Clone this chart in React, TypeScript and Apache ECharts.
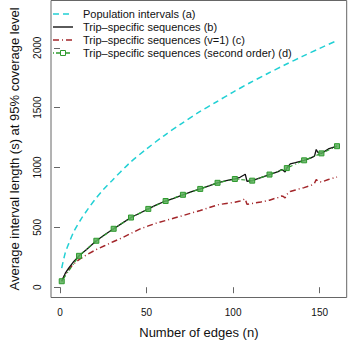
import React, { useEffect, useRef } from "react";
import * as echarts from "echarts";

// Population intervals (a)
const popN = [1, 3, 5, 8, 12, 16, 20, 25, 30, 40, 50, 60, 70, 80, 90, 100, 110, 120, 130, 140, 150, 160];
const popV = [160, 285, 362, 465, 565, 650, 728, 815, 890, 1035, 1155, 1265, 1365, 1460, 1545, 1630, 1710, 1785, 1858, 1928, 1995, 2060];

// Trip-specific sequences (b)
const tripN = [1, 3, 5, 8, 11, 15, 21, 26, 31, 36, 41, 46, 51, 56, 61, 66, 71, 76, 81, 86, 91, 96, 101, 104, 106, 107, 108, 111, 116, 121, 126, 128, 129, 130, 131, 133, 136, 141, 145, 147, 148, 149, 151, 155, 160];
const tripV = [50, 115, 160, 215, 262, 310, 388, 440, 488, 535, 582, 618, 654, 690, 720, 745, 772, 798, 821, 846, 872, 890, 904, 918, 935, 944, 885, 890, 915, 941, 965, 982, 975, 962, 995, 1030, 1040, 1060, 1080, 1095, 1150, 1125, 1118, 1155, 1178];

// Trip-specific sequences (v=1) (c)
const v1N = [1, 3, 6, 9, 12, 16, 21, 26, 31, 36, 41, 46, 51, 56, 61, 66, 71, 76, 81, 86, 91, 96, 101, 104, 106, 107, 108, 111, 116, 121, 126, 128, 129, 130, 131, 133, 136, 141, 145, 147, 148, 149, 151, 155, 160];
const v1V = [50, 110, 165, 210, 240, 276, 315, 348, 382, 413, 450, 485, 512, 537, 557, 578, 598, 620, 641, 664, 688, 700, 710, 720, 732, 738, 692, 700, 712, 727, 750, 762, 758, 745, 775, 800, 812, 832, 850, 868, 900, 885, 878, 900, 920];

// Trip-specific sequences (second order) (d)
const secN = [1, 11, 21, 31, 41, 51, 61, 71, 81, 91, 101, 111, 121, 131, 141, 151, 160];
const secV = [50, 262, 388, 488, 582, 654, 720, 772, 821, 872, 904, 890, 941, 995, 1060, 1118, 1178];

const xTicks = [0, 50, 100, 150];
const yTicks = [0, 500, 1000, 1500, 2000];

const legendLabels = [
  "Population intervals (a)",
  "Trip\u2013specific sequences (b)",
  "Trip\u2013specific sequences (v=1) (c)",
  "Trip\u2013specific sequences (second order) (d)",
];

const FONT = "'Liberation Sans', Arial, Helvetica, sans-serif";
const CYAN = "#22d0d4";
const RED = "#a3262a";
const GREEN = "#2f9a2f";

const zip = (a: number[], b: number[]) => a.map((x, i) => [x, b[i]]);

export default function App() {
  const ref = useRef<HTMLDivElement>(null);
  useEffect(() => {
    if (!ref.current) return;
    const chart = echarts.init(ref.current, null, { renderer: "svg" });
    const legendY = [14, 27, 40, 53];
    const legendStyles = [
      { stroke: CYAN, lineDash: [6, 4], lineWidth: 1.5 },
      { stroke: "#000", lineDash: null, lineWidth: 1.3 },
      { stroke: RED, lineDash: [6, 3, 1, 3], lineWidth: 1.5 },
      { stroke: GREEN, lineDash: [1, 2, 4, 3], lineWidth: 1.3 },
    ];
    const graphic: any[] = [];
    legendY.forEach((y, i) => {
      graphic.push({
        type: "line",
        shape: { x1: 53, y1: y, x2: 73, y2: y },
        style: { ...legendStyles[i], fill: null },
        silent: true,
      });
      graphic.push({
        type: "text",
        x: 83,
        y: y,
        style: {
          text: legendLabels[i],
          font: `11px ${FONT}`,
          fill: "#111",
          verticalAlign: "middle",
          align: "left",
        },
        silent: true,
      });
    });
    graphic.push({
      type: "rect",
      shape: { x: 60.5, y: 53 - 2.5, width: 5, height: 5 },
      style: { fill: "#fff", stroke: GREEN, lineWidth: 1 },
      silent: true,
    });

    const fmt = (v: number) => String(v);

    chart.setOption({
      animation: false,
      backgroundColor: "#fff",
      textStyle: { fontFamily: FONT },
      grid: {
        left: 50.7,
        top: 0.5,
        width: 296,
        height: 297,
        show: true,
        borderColor: "#666",
        borderWidth: 1,
        backgroundColor: "transparent",
        containLabel: false,
      },
      xAxis: {
        type: "value",
        min: -5.2,
        max: 165.6,
        splitLine: { show: false },
        axisLine: { show: false },
        axisTick: { show: true, inside: false, length: 6, lineStyle: { color: "#666" }, customValues: xTicks },
        axisLabel: { color: "#111", fontSize: 10, margin: 10, customValues: xTicks, fontFamily: FONT, formatter: fmt },
        name: "Number of edges (n)",
        nameLocation: "middle",
        nameGap: 28,
        nameTextStyle: { fontSize: 13, color: "#111", fontFamily: FONT },
      },
      yAxis: {
        type: "value",
        min: -86,
        max: 2395,
        splitLine: { show: false },
        axisLine: { show: false },
        axisTick: { show: true, inside: false, length: 6, lineStyle: { color: "#666" }, customValues: yTicks },
        axisLabel: { color: "#111", fontSize: 10, margin: 9, rotate: 90, customValues: yTicks, fontFamily: FONT, formatter: fmt },
        name: "Average interval length (s) at 95% coverage level",
        nameLocation: "middle",
        nameGap: 30,
        nameRotate: 90,
        nameTextStyle: { fontSize: 13, color: "#111", fontFamily: FONT },
      },
      graphic,
      series: [
        {
          type: "line",
          data: zip(popN, popV),
          smooth: 0.3,
          showSymbol: false,
          lineStyle: { color: CYAN, width: 1.5, type: [6, 4] },
          z: 2,
        },
        {
          type: "line",
          data: zip(v1N, v1V),
          showSymbol: false,
          lineStyle: { color: RED, width: 1.5, type: [6, 3, 1, 3] },
          z: 2,
        },
        {
          type: "line",
          data: zip(tripN, tripV),
          showSymbol: false,
          lineStyle: { color: "#111", width: 1.3 },
          z: 3,
        },
        {
          type: "line",
          data: zip(secN, secV),
          symbol: "rect",
          symbolSize: 5,
          showSymbol: true,
          itemStyle: { color: "rgba(90,175,90,0.85)", borderColor: GREEN, borderWidth: 1 },
          lineStyle: { color: GREEN, width: 1.2, type: [1, 2, 4, 3] },
          z: 4,
        },
      ],
    });
    return () => chart.dispose();
  }, []);
  return (
    <div
      ref={ref}
      style={{ position: "fixed", left: 0, top: 0, width: 349, height: 349 }}
    />
  );
}
